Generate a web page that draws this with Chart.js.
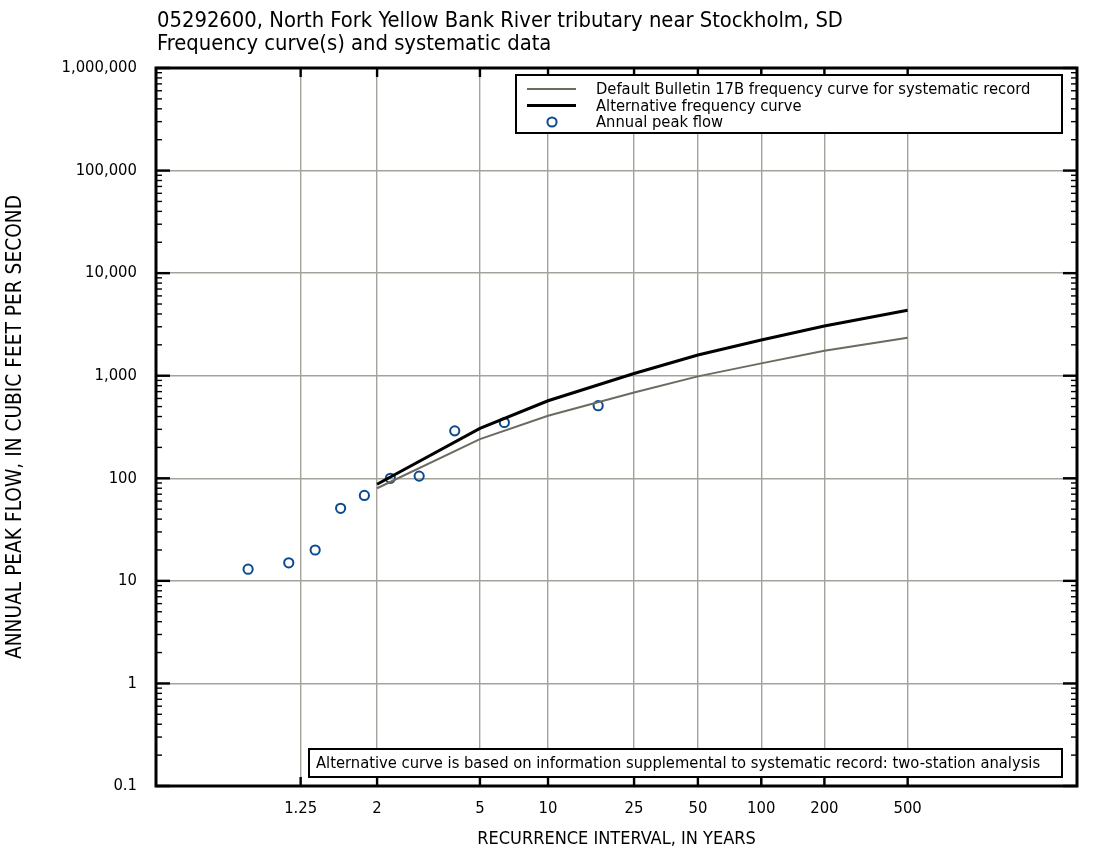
<!DOCTYPE html>
<html>
<head>
<meta charset="utf-8">
<script src="https://cdn.jsdelivr.net/npm/chart.js@4.4.1/dist/chart.umd.min.js"></script>
<style>
  html, body { margin: 0; padding: 0; background: #fff; }
  canvas { display: block; }
</style>
</head>
<body>
<canvas id="freq-chart" width="1096" height="855"></canvas>
<script>
(function () {
  "use strict";

  const FONT = '"DejaVu Sans Condensed", "Liberation Sans", sans-serif';

  const titleLines = [
    "05292600, North Fork Yellow Bank River tributary near Stockholm, SD",
    "Frequency curve(s) and systematic data"
  ];
  const noteText = "Alternative curve is based on information supplemental to systematic record: two-station analysis";

  // recurrence interval ticks (years) and flow ticks (cfs)
  const xTickIntervals = [1.25, 2, 5, 10, 25, 50, 100, 200, 500];
  const xTickLabels = ["1.25", "2", "5", "10", "25", "50", "100", "200", "500"];
  const yTickValues = [0.1, 1, 10, 100, 1000, 10000, 100000, 1000000];
  const yTickLabels = ["0.1", "1", "10", "100", "1,000", "10,000", "100,000", "1,000,000"];

  // frequency curves
  const curveIntervals = [2, 5, 10, 25, 50, 100, 200, 500];
  const defaultCurveFlows = [80, 241, 407, 687, 985, 1319, 1754, 2350];
  const alternativeCurveFlows = [87.5, 306, 570, 1052, 1592, 2233, 3054, 4345];

  // annual peaks, plotted at their recurrence intervals
  const peakIntervals = [1.06, 1.19, 1.34, 1.55, 1.82, 2.22, 2.83, 3.92, 6.38, 17.0];
  const peakFlows = [13, 15, 20, 51, 68, 100, 105, 290, 350, 510];

  // Gumbel reduced variate, used as the x position
  const gumbel = (t) => -Math.log(-Math.log(1 - 1 / t));

  const colors = {
    grid: "#a3a39b",
    defaultCurve: "#6b6b61",
    altCurve: "#000000",
    peaks: "#0b4a8e"
  };

  const toPoints = (xs, ys) => xs.map((t, i) => ({ x: gumbel(t), y: ys[i] }));

  const datasets = [
    {
      label: "Default Bulletin 17B frequency curve for systematic record",
      data: toPoints(curveIntervals, defaultCurveFlows),
      showLine: true,
      borderColor: colors.defaultCurve,
      borderWidth: 2,
      pointRadius: 0,
      tension: 0,
      kind: "line"
    },
    {
      label: "Alternative frequency curve",
      data: toPoints(curveIntervals, alternativeCurveFlows),
      showLine: true,
      borderColor: colors.altCurve,
      borderWidth: 3,
      pointRadius: 0,
      tension: 0,
      kind: "line"
    },
    {
      label: "Annual peak flow",
      data: toPoints(peakIntervals, peakFlows),
      showLine: false,
      borderColor: colors.peaks,
      backgroundColor: "rgba(255,255,255,0)",
      borderWidth: 2,
      pointRadius: 4.6,
      kind: "point"
    }
  ];

  function line(ctx, x1, y1, x2, y2) {
    ctx.beginPath();
    ctx.moveTo(x1, y1);
    ctx.lineTo(x2, y2);
    ctx.stroke();
  }

  const overlay = {
    id: "overlay",
    afterDatasetsDraw(chart) {
      const { ctx, chartArea: a } = chart;
      const x = chart.scales.x;
      const y = chart.scales.y;
      ctx.save();
      ctx.strokeStyle = "#000";

      // minor ticks on both sides
      ctx.lineWidth = 1.4;
      for (let e = -1; e < 6; e++) {
        for (let m = 2; m <= 9; m++) {
          const py = y.getPixelForValue(m * Math.pow(10, e));
          line(ctx, a.left, py, a.left + 6, py);
          line(ctx, a.right - 6, py, a.right, py);
        }
      }
      // decade ticks
      ctx.lineWidth = 2.4;
      yTickValues.forEach((v) => {
        const py = y.getPixelForValue(v);
        line(ctx, a.left, py, a.left + 14, py);
        line(ctx, a.right - 14, py, a.right, py);
      });
      // recurrence ticks top and bottom
      xTickIntervals.forEach((t) => {
        const px = x.getPixelForValue(gumbel(t));
        line(ctx, px, a.top, px, a.top + 9);
        line(ctx, px, a.bottom - 9, px, a.bottom);
      });

      // legend box
      const lx = 516, ly = 75, lw = 546, lh = 58;
      ctx.fillStyle = "#fff";
      ctx.fillRect(lx, ly, lw, lh);
      ctx.lineWidth = 2;
      ctx.strokeRect(lx, ly, lw, lh);
      ctx.font = "16.4px " + FONT;
      ctx.textBaseline = "middle";
      ctx.textAlign = "left";
      chart.data.datasets.forEach((ds, i) => {
        const cy = ly + 14 + i * 16.5;
        ctx.strokeStyle = ds.borderColor;
        ctx.lineWidth = ds.borderWidth;
        if (ds.kind === "line") {
          line(ctx, 527, cy, 576, cy);
        } else {
          ctx.beginPath();
          ctx.arc(552, cy, ds.pointRadius, 0, Math.PI * 2);
          ctx.stroke();
        }
        ctx.fillStyle = "#000";
        ctx.fillText(ds.label, 596, cy + 1);
      });

      // note box
      ctx.strokeStyle = "#000";
      ctx.fillStyle = "#fff";
      ctx.fillRect(309, 749, 753, 28);
      ctx.lineWidth = 2;
      ctx.strokeRect(309, 749, 753, 28);
      ctx.fillStyle = "#000";
      ctx.fillText(noteText, 316, 764);

      // frame
      ctx.lineWidth = 3;
      ctx.strokeRect(a.left, a.top, a.right - a.left, a.bottom - a.top);

      // title
      ctx.font = "21.8px " + FONT;
      ctx.textBaseline = "alphabetic";
      ctx.fillText(titleLines[0], a.left + 1, 27);
      ctx.fillText(titleLines[1], a.left + 1, 50);
      ctx.restore();
    }
  };

  const ctx = document.getElementById("freq-chart").getContext("2d");

  new Chart(ctx, {
    type: "scatter",
    data: { datasets },
    options: {
      responsive: false,
      animation: false,
      devicePixelRatio: 1,
      layout: { padding: { top: 68, right: 19, bottom: 0, left: 0 } },
      elements: { line: { fill: false } },
      plugins: {
        legend: { display: false },
        tooltip: { enabled: false }
      },
      scales: {
        x: {
          type: "linear",
          min: -2.07,
          max: 8.08,
          afterBuildTicks: (scale) => {
            scale.ticks = xTickIntervals.map((t) => ({ value: gumbel(t) }));
          },
          afterFit: (scale) => { scale.height = 69; },
          ticks: {
            autoSkip: false,
            maxRotation: 0,
            padding: 13,
            color: "#000",
            font: { family: FONT, size: 16.5 },
            callback: (v, i) => xTickLabels[i]
          },
          grid: { color: colors.grid, lineWidth: 1.4, drawTicks: false },
          border: { display: false },
          title: {
            display: true,
            text: "RECURRENCE INTERVAL, IN YEARS",
            color: "#000",
            font: { family: FONT, size: 18 },
            padding: { top: 0, bottom: 5 }
          }
        },
        y: {
          type: "logarithmic",
          min: 0.1,
          max: 1000000,
          afterBuildTicks: (scale) => {
            scale.ticks = yTickValues.map((v) => ({ value: v }));
          },
          afterFit: (scale) => { scale.width = 156; },
          ticks: {
            autoSkip: false,
            padding: 19,
            color: "#000",
            font: { family: FONT, size: 16.5 },
            callback: (v, i) => yTickLabels[i]
          },
          grid: { color: colors.grid, lineWidth: 1.4, drawTicks: false },
          border: { display: false },
          title: {
            display: true,
            text: "ANNUAL PEAK FLOW, IN CUBIC FEET PER SECOND",
            color: "#000",
            font: { family: FONT, size: 20.7 },
            padding: { top: 3, bottom: 0 }
          }
        }
      }
    },
    plugins: [overlay]
  });
})();
</script>
</body>
</html>
